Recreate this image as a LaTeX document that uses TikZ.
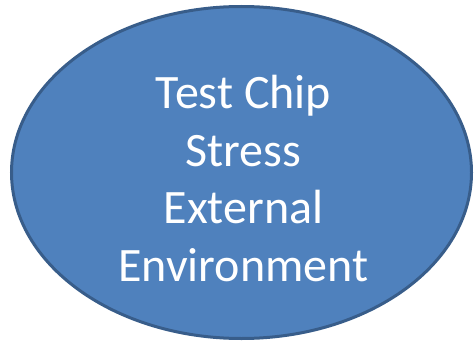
\documentclass[tikz,border=0pt]{standalone}
\usepackage{fontspec}
\setmainfont{Carlito}
\usepackage{tikz}
\usetikzlibrary{shapes.geometric}
\definecolor{chipfill}{HTML}{4F81BD}
\definecolor{chipedge}{HTML}{385D8A}

\begin{document}
\begin{tikzpicture}[x=1pt,y=-1pt,font=\fontsize{48}{57.5}\selectfont]
      \tikzstyle{chip node}=[ellipse,draw=chipedge,fill=chipfill,line width=3pt,
        minimum width=460pt,minimum height=332pt,inner sep=0pt]
      \tikzstyle{chip text}=[text=white,align=center,inner sep=0pt]
      \useasboundingbox (0,0) rectangle (476,345);

      \node(chip)[chip node] at (241.5,172.5){};
      \node(chiptext)[chip text] at ([xshift=2pt,yshift=-6pt]chip.center){Test Chip\\Stress\\External\\Environment};
    \end{tikzpicture}
\end{document}
